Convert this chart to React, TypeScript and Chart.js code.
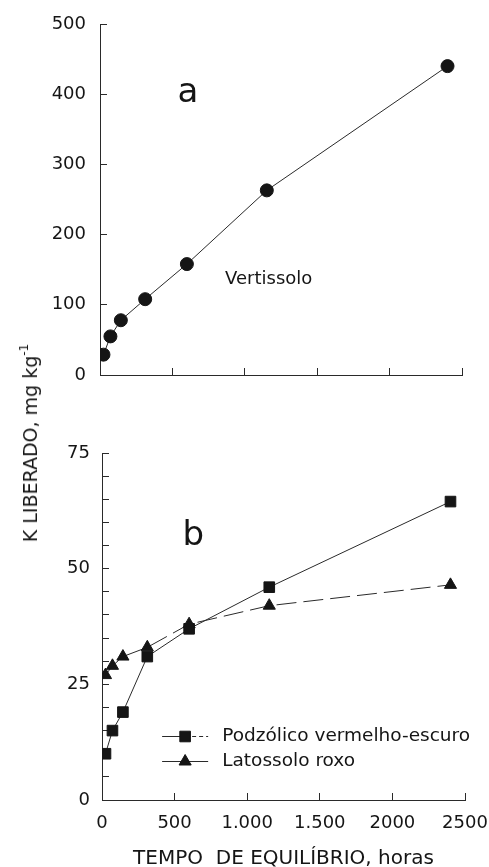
import React, { useEffect, useRef } from 'react';
import { Chart, registerables } from 'chart.js';
import { drawPoint } from 'chart.js/helpers';

Chart.register(...registerables);

// ---- data ----
const times = [24, 72, 144, 312, 600, 1152, 2400];
const vertissolo = [29, 55, 78, 108, 158, 263, 440];
const podzolico = [10, 15, 19, 31, 37, 46, 64.5];
const latossolo = [27, 29, 31, 33, 38, 42, 46.5];
const xTickLabels: Record<number, string> = { 0: '0', 500: '500', 1000: '1.000', 1500: '1.500', 2000: '2000', 2500: '2500' };
const topYTicks = [0, 100, 200, 300, 400, 500];
const bottomYTicks = [0, 25, 50, 75];
const seriesNames = ['Podzólico vermelho-escuro', 'Latossolo roxo'];

const FONT = 'DejaVu Sans';
const INK = '#151515';
const LINE = '#2a2a2a';

const annotPlugin = {
  id: 'annot',
  afterDatasetsDraw(chart: any, _args: any, opts: any) {
    const { ctx } = chart;
    const x = chart.scales.x;
    const y = chart.scales.y;
    ctx.save();
    ctx.fillStyle = INK;
    (opts.texts || []).forEach((t: any) => {
      ctx.font = t.font;
      ctx.textAlign = t.align || 'center';
      ctx.textBaseline = 'middle';
      ctx.fillText(t.text, x.getPixelForValue(t.x), y.getPixelForValue(t.y));
    });
    const L = opts.legend;
    if (L) {
      chart.data.datasets.forEach((ds: any, i: number) => {
        const py = Math.round(y.getPixelForValue(L.rows[i])) + 0.5;
        const x0 = x.getPixelForValue(L.x0);
        const x1 = x.getPixelForValue(L.x1);
        const xm = (x0 + x1) / 2;
        ctx.strokeStyle = LINE;
        ctx.lineWidth = 1;
        ctx.setLineDash([]);
        ctx.beginPath(); ctx.moveTo(x0, py); ctx.lineTo(xm, py); ctx.stroke();
        ctx.setLineDash(L.rightDash[i]);
        ctx.beginPath(); ctx.moveTo(xm, py); ctx.lineTo(x1, py); ctx.stroke();
        ctx.setLineDash([]);
        ctx.fillStyle = INK;
        ctx.strokeStyle = INK;
        drawPoint(ctx, { pointStyle: ds.pointStyle, radius: ds.pointRadius, rotation: 0, borderWidth: 1 } as any, xm, py);
        ctx.font = L.font;
        ctx.textAlign = 'left';
        ctx.textBaseline = 'middle';
        ctx.fillStyle = INK;
        ctx.fillText(ds.label, x.getPixelForValue(L.textX), py);
      });
    }
    ctx.restore();
  },
};

function zeroPad(s: any) {
  s.paddingLeft = 0;
  s.paddingRight = 0;
  s.paddingTop = 0;
  s.paddingBottom = 0;
}

function axisCommon() {
  return {
    grid: { drawOnChartArea: false, drawTicks: true, tickLength: -7, color: LINE, lineWidth: 1 },
    border: { display: true, color: LINE, width: 1 },
  };
}

export default function App() {
  const topRef = useRef<HTMLCanvasElement>(null);
  const botRef = useRef<HTMLCanvasElement>(null);

  useEffect(() => {
    const c1 = new Chart(topRef.current as HTMLCanvasElement, {
      type: 'line',
      data: {
        datasets: [
          {
            label: 'Vertissolo',
            data: times.map((t, i) => ({ x: t, y: vertissolo[i] })),
            borderColor: LINE,
            borderWidth: 1,
            pointStyle: 'circle',
            pointRadius: 6.5,
            pointBackgroundColor: INK,
            pointBorderColor: INK,
            pointBorderWidth: 1,
          },
        ],
      },
      options: {
        responsive: false,
        animation: false,
        layout: { padding: { left: 0, top: 24, right: 27, bottom: 0 } },
        plugins: {
          legend: { display: false },
          tooltip: { enabled: false },
          annot: {
            texts: [
              { text: 'a', x: 608, y: 401, font: `34px "${FONT}"` },
              { text: 'Vertissolo', x: 864, y: 136, font: `18px "${FONT}"`, align: 'left' },
            ],
          },
        } as any,
        scales: {
          x: {
            type: 'linear',
            min: 0,
            max: 2500,
            ...axisCommon(),
            ticks: { stepSize: 500, display: false },
            afterFit: (s: any) => { s.height = 25; zeroPad(s); },
          },
          y: {
            type: 'linear',
            min: 0,
            max: 500,
            ...axisCommon(),
            afterBuildTicks: (s: any) => { s.ticks = topYTicks.map((v) => ({ value: v })); },
            ticks: { font: { family: FONT, size: 18 }, color: INK, padding: 21, autoSkip: false },
            afterFit: (s: any) => { s.width = 100; zeroPad(s); },
          },
        },
      },
      plugins: [annotPlugin],
    });

    const c2 = new Chart(botRef.current as HTMLCanvasElement, {
      type: 'line',
      data: {
        datasets: [
          {
            label: seriesNames[0],
            data: times.map((t, i) => ({ x: t, y: podzolico[i] })),
            borderColor: LINE,
            borderWidth: 1,
            pointStyle: 'rect',
            pointRadius: 7.5,
            pointBackgroundColor: INK,
            pointBorderColor: INK,
            pointBorderWidth: 1,
          },
          {
            label: seriesNames[1],
            data: times.map((t, i) => ({ x: t, y: latossolo[i] })),
            borderColor: LINE,
            borderWidth: 1,
            borderDash: [20, 7],
            pointStyle: 'triangle',
            pointRadius: 7,
            pointBackgroundColor: INK,
            pointBorderColor: INK,
            pointBorderWidth: 1,
          },
        ],
      },
      options: {
        responsive: false,
        animation: false,
        layout: { padding: { left: 0, top: 33, right: 24, bottom: 0 } },
        plugins: {
          legend: { display: false },
          tooltip: { enabled: false },
          annot: {
            texts: [{ text: 'b', x: 628, y: 57, font: `34px "${FONT}"` }],
            legend: {
              x0: 414,
              x1: 731,
              textX: 828,
              rows: [13.85, 8.44],
              rightDash: [[4, 3], []],
              font: `18.5px "${FONT}"`,
            },
          },
        } as any,
        scales: {
          x: {
            type: 'linear',
            min: 0,
            max: 2500,
            ...axisCommon(),
            ticks: {
              stepSize: 500,
              font: { family: FONT, size: 18 },
              color: INK,
              padding: 20,
              maxRotation: 0,
              autoSkip: false,
              callback: (v: any) => xTickLabels[v as number] ?? '',
            },
            title: {
              display: true,
              text: 'TEMPO  DE EQUILÍBRIO, horas',
              font: { family: FONT, size: 20 },
              color: INK,
              padding: { top: 0, bottom: -4 },
            },
            afterFit: (s: any) => { s.height = 67; zeroPad(s); },
          },
          y: {
            type: 'linear',
            min: 0,
            max: 75,
            ...axisCommon(),
            ticks: {
              stepSize: 5,
              font: { family: FONT, size: 18 },
              color: INK,
              padding: 19,
              autoSkip: false,
              callback: (v: any) => (bottomYTicks.includes(v as number) ? String(v) : ''),
            },
            afterFit: (s: any) => { s.width = 102; zeroPad(s); },
          },
        },
      },
      plugins: [annotPlugin],
    });

    return () => {
      c1.destroy();
      c2.destroy();
    };
  }, []);

  return (
    <div style={{ position: 'absolute', left: 0, top: 0, width: 489, height: 867, background: '#fff', overflow: 'hidden' }}>
      <canvas ref={topRef} width={489} height={400} style={{ position: 'absolute', left: 0, top: 0, display: 'block' }} />
      <canvas ref={botRef} width={489} height={447} style={{ position: 'absolute', left: 0, top: 420, display: 'block' }} />
      <div
        style={{
          position: 'absolute',
          left: 30,
          top: 443,
          transform: 'translate(-50%, -50%) rotate(-90deg)',
          whiteSpace: 'nowrap',
          fontFamily: `"${FONT}"`,
          fontSize: 19,
          color: INK,
          lineHeight: '20px',
        }}
      >
        K LIBERADO, mg kg<sup style={{ fontSize: 12, verticalAlign: 'top', position: 'relative', top: -6 }}>-1</sup>
      </div>
    </div>
  );
}
